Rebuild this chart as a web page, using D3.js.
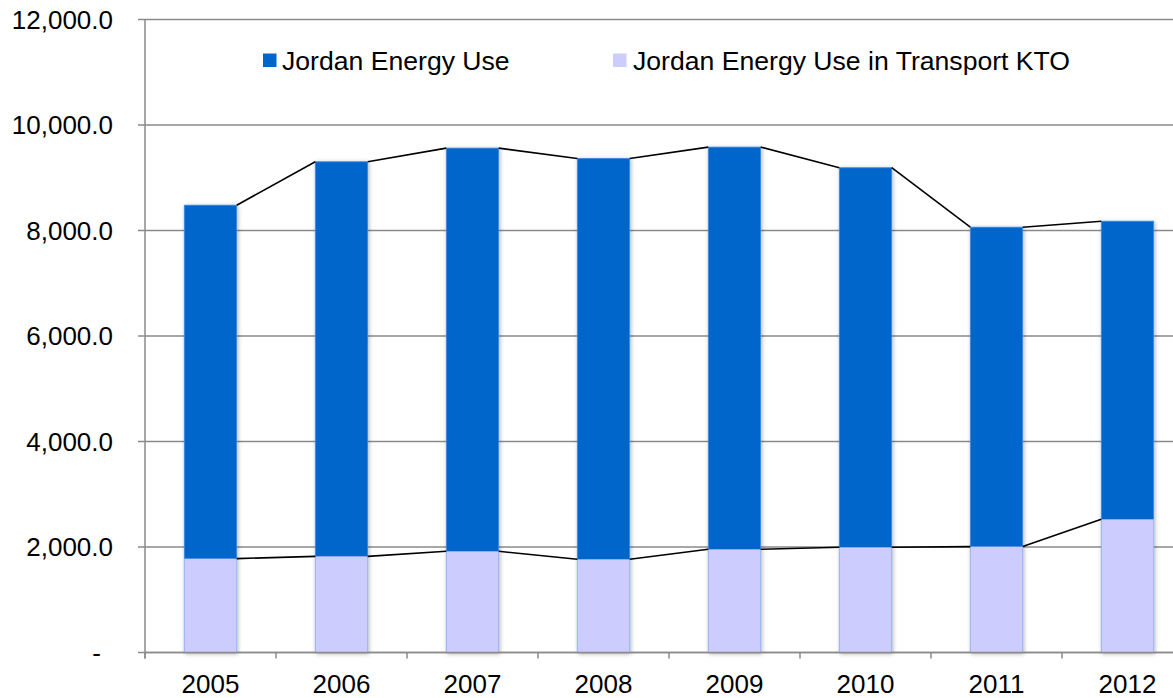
<!DOCTYPE html>
<html>
<head>
<meta charset="utf-8">
<script src="https://cdn.jsdelivr.net/npm/d3@7"></script>
<style>
  html, body { margin: 0; padding: 0; background: #fff; }
  svg { display: block; font-family: "Liberation Sans", Arial, sans-serif; }
</style>
</head>
<body>
<svg id="chart" width="1173" height="698"></svg>
<script>
const years = ["2005", "2006", "2007", "2008", "2009", "2010", "2011", "2012"];
const energyUse = [8480, 9303, 9562, 9366, 9581, 9190, 8063, 8176];
const transportUse = [1780, 1823, 1918, 1767, 1956, 1994, 2008, 2525];
const yTicks = [0, 2000, 4000, 6000, 8000, 10000, 12000];
const seriesNames = ["Jordan Energy Use", "Jordan Energy Use in Transport KTO"];
const colors = ["#0066CC", "#CCCCFF"];

(function () {
const svg = d3.select("#chart");
const W = 1173;
const pLeft = 145, pRight = 1193, pTop = 19.5, pBottom = 652.5;

const x = d3.scaleBand().domain(years).range([pLeft, pRight]).paddingInner(0.6).paddingOuter(0.3);
const y = d3.scaleLinear().domain([0, 12000]).range([pBottom, pTop]);

const defs = svg.append("defs");
const f = defs.append("filter").attr("id", "shadow").attr("x", "-20%").attr("y", "-5%").attr("width", "140%").attr("height", "110%");
f.append("feDropShadow").attr("dx", 1).attr("dy", 1).attr("stdDeviation", 2).attr("flood-color", "#000").attr("flood-opacity", 0.3);

// gridlines
svg.append("g").selectAll("line").data(yTicks).join("line")
  .attr("x1", pLeft - 7).attr("x2", W)
  .attr("y1", d => y(d)).attr("y2", d => y(d))
  .attr("stroke", "#8a8a8a").attr("stroke-width", 1.5);

// y labels
const fmt = d3.format(",.1f");
svg.append("g").selectAll("text").data(yTicks).join("text")
  .attr("x", d => d === 0 ? 101 : 113)
  .attr("y", d => y(d)).attr("dy", "0.35em")
  .attr("text-anchor", "end")
  .attr("font-size", 26).attr("fill", "#000")
  .text(d => d === 0 ? "-" : fmt(d));

// bars
const bw = x.bandwidth();
svg.append("g").selectAll("rect").data(years).join("rect")
  .attr("x", d => x(d)).attr("width", bw)
  .attr("y", (d, i) => y(energyUse[i]))
  .attr("height", (d, i) => y(0) - y(energyUse[i]))
  .attr("fill", colors[0])
  .attr("stroke", "#3f8be0").attr("stroke-width", 0.8)
  .attr("filter", "url(#shadow)");

svg.append("g").selectAll("rect").data(years).join("rect")
  .attr("x", d => x(d)).attr("width", bw)
  .attr("y", (d, i) => y(transportUse[i]))
  .attr("height", (d, i) => y(0) - y(transportUse[i]))
  .attr("fill", colors[1]);

// series lines
function seriesLines(vals) {
  const segs = [];
  for (let i = 0; i < vals.length - 1; i++) {
    segs.push([x(years[i]) + bw, y(vals[i]), x(years[i + 1]), y(vals[i + 1])]);
  }
  return segs;
}
[energyUse, transportUse].forEach(vals => {
  svg.append("g").selectAll("line").data(seriesLines(vals)).join("line")
    .attr("x1", d => d[0]).attr("y1", d => d[1])
    .attr("x2", d => d[2]).attr("y2", d => d[3])
    .attr("stroke", "#000").attr("stroke-width", 1.6);
});

// axes
svg.append("line").attr("x1", pLeft).attr("x2", pLeft).attr("y1", pTop).attr("y2", pBottom + 6)
  .attr("stroke", "#8a8a8a").attr("stroke-width", 1.5);
svg.append("line").attr("x1", pLeft).attr("x2", W).attr("y1", pBottom).attr("y2", pBottom)
  .attr("stroke", "#8a8a8a").attr("stroke-width", 1.5);
const step = x.step();
const bounds = d3.range(years.length + 1).map(i => pLeft + i * step);
svg.append("g").selectAll("line").data(bounds).join("line")
  .attr("x1", d => d).attr("x2", d => d)
  .attr("y1", pBottom).attr("y2", pBottom + 6)
  .attr("stroke", "#8a8a8a").attr("stroke-width", 1.5);

// x labels
svg.append("g").selectAll("text").data(years).join("text")
  .attr("x", d => x(d) + bw / 2).attr("y", 693)
  .attr("text-anchor", "middle")
  .attr("font-size", 26).attr("fill", "#000")
  .text(d => d);

// legend
const legendX = [263, 613];
const lg = svg.append("g").selectAll("g").data(seriesNames).join("g")
  .attr("transform", (d, i) => `translate(${legendX[i]},0)`);
lg.append("rect").attr("x", 0).attr("y", 53.5).attr("width", 13.5).attr("height", 13.5)
  .attr("fill", (d, i) => colors[i]);
lg.append("text").attr("x", (d, i) => i === 0 ? 19 : 20).attr("y", 69.5)
  .attr("font-size", 26.6).attr("fill", "#000")
  .text(d => d);
})();
</script>
</body>
</html>
